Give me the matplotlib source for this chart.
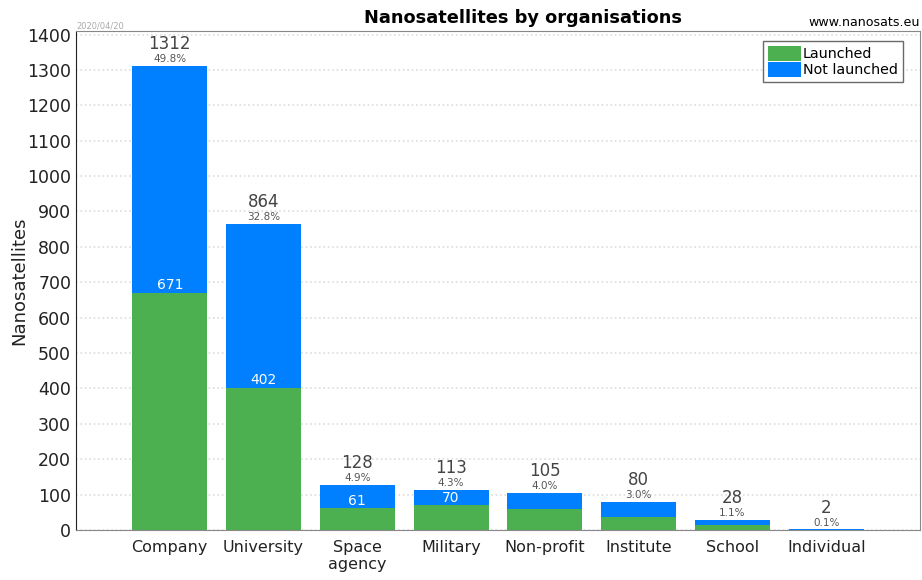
import matplotlib
matplotlib.use('Agg')
import matplotlib.pyplot as plt
import numpy as np

# data
organisations = ['Company', 'University', 'Space\nagency', 'Military', 'Non-profit',
                 'Institute', 'School', 'Individual']
totals = [1312, 864, 128, 113, 105, 80, 28, 2]
launched = [671, 402, 61, 70, 58, 38, 15, 1]
percents = ['49.8%', '32.8%', '4.9%', '4.3%', '4.0%', '3.0%', '1.1%', '0.1%']
launched_labels = ['671', '402', '61', '70', '', '', '', '']

green = '#4caf50'
blue = '#0080ff'

not_launched = [t - l for t, l in zip(totals, launched)]
x = np.arange(len(organisations))

fig = plt.figure(figsize=(9.22, 5.8), dpi=100)
ax = fig.add_axes([76 / 922, 1 - 530 / 580, (920 - 76) / 922, (530 - 31) / 580])

ax.bar(x, launched, width=0.8, color=green, label='Launched', zorder=2)
ax.bar(x, not_launched, width=0.8, bottom=launched, color=blue, label='Not launched', zorder=2)

for i in range(len(x)):
    # total on top, share just above the bar
    ax.text(x[i], totals[i] + 36, str(totals[i]), ha='center', va='bottom',
            fontsize=12, color='#444444')
    ax.text(x[i], totals[i] + 5, percents[i], ha='center', va='bottom',
            fontsize=7.5, color='#555555')
    if launched_labels[i]:
        ax.text(x[i], launched[i] + 2, launched_labels[i], ha='center', va='bottom',
                fontsize=10, color='white')

ax.set_xlim(-1, 8)
ax.set_ylim(0, 1410)
ax.set_yticks(range(0, 1401, 100))
ax.set_xticks(x)
ax.set_xticklabels(organisations, fontsize=11.5, color='#222222')
ax.tick_params(axis='y', labelsize=12.5, length=0, labelcolor='#222222')
ax.tick_params(axis='x', length=0, pad=7)
ax.yaxis.grid(True, linestyle=':', color='#dddddd', linewidth=1.2, zorder=0)
ax.set_ylabel('Nanosatellites', fontsize=13, color='#222222')
ax.yaxis.set_label_coords(-0.057, 0.5)

for side in ['top', 'right', 'bottom']:
    ax.spines[side].set_color('#888888')
ax.spines['left'].set_color('#222222')

leg = ax.legend(loc='upper right', bbox_to_anchor=(0.9795, 0.98), fancybox=False,
                edgecolor='#444444', fontsize=10.3, handlelength=2.3, handleheight=1.2,
                borderpad=0.35, labelspacing=0.05, handletextpad=0.15, borderaxespad=0.0)
leg.get_frame().set_linewidth(1.0)

fig.text(523 / 922, 1 - 18 / 580, 'Nanosatellites by organisations', ha='center', va='center',
         fontsize=12.8, fontweight='bold')
fig.text(920 / 922, 1 - 23 / 580, 'www.nanosats.eu', ha='right', va='center', fontsize=9.1)
fig.text(76 / 922, 1 - 26 / 580, '2020/04/20', ha='left', va='center', fontsize=6,
         color='#aaaaaa')

fig.savefig('out.png', dpi=100)
